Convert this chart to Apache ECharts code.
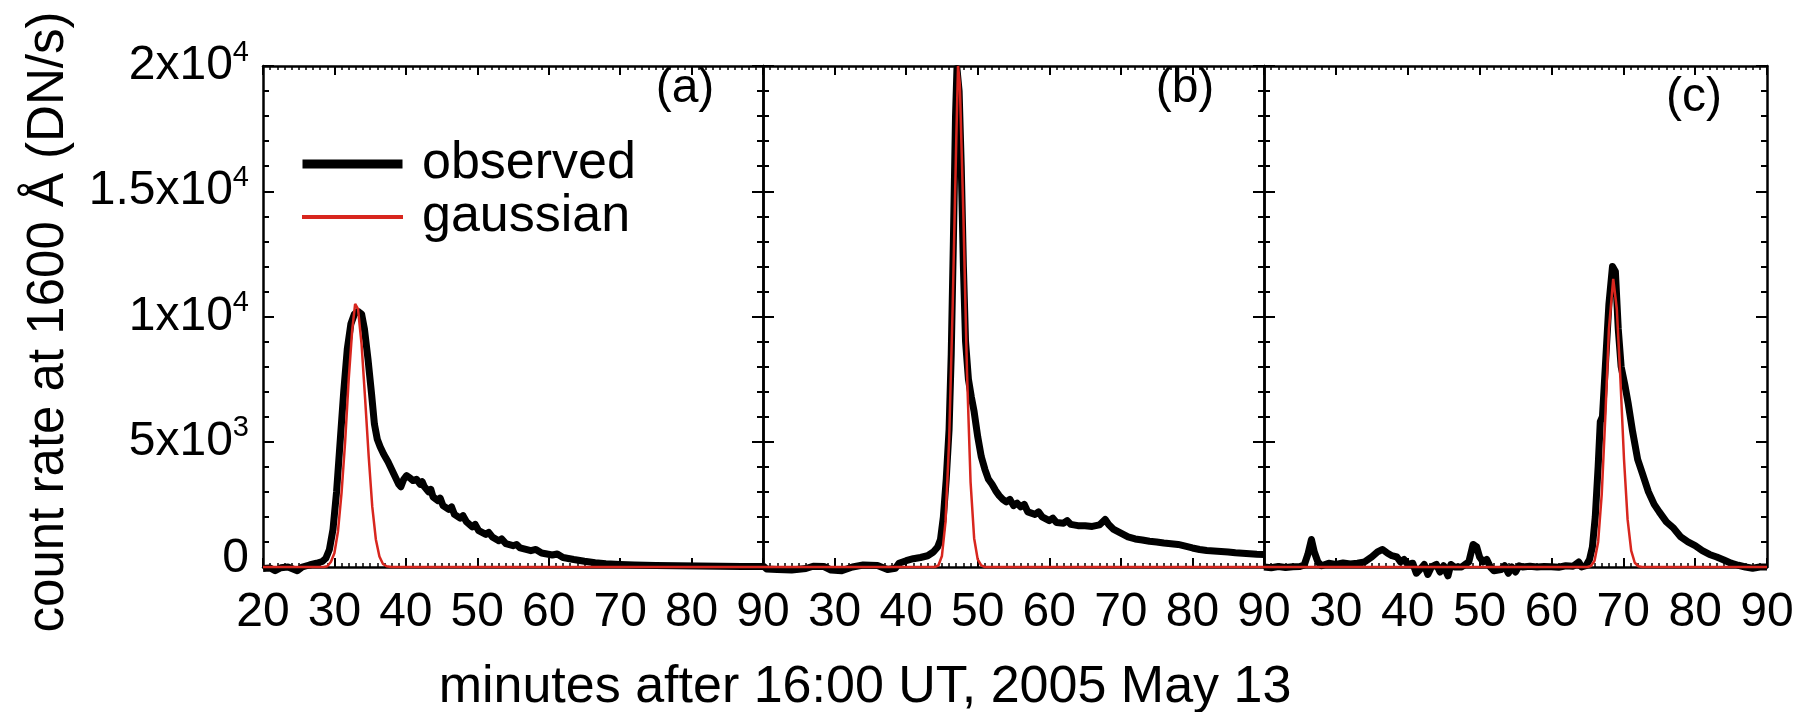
<!DOCTYPE html>
<html>
<head>
<meta charset="utf-8">
<script src="https://cdn.jsdelivr.net/npm/echarts@6/dist/echarts.min.js"></script>
<style>
html,body{margin:0;padding:0;background:#ffffff;}
#chart{width:1816px;height:712px;}
</style>
</head>
<body>
<div id="chart"></div>
<script>
// ---------------- DATA ----------------
// Panel (a)
const obsA_t = [20,21,21.7,22.5,23.5,24.8,25.5,26.5,27.5,28.3,28.8,29.3,29.8,30.3,30.8,31.3,31.8,32.3,32.8,33.3,33.8,34.2,34.7,35.2,35.6,36.0,36.4,36.9,37.5,38.0,38.5,39.0,39.3,39.7,40.1,40.6,41.0,41.5,42.0,42.3,42.6,43.2,43.5,43.8,44.5,44.8,45.2,46.0,46.4,46.8,47.6,48.0,48.5,49.3,49.7,50.2,51.2,51.6,52.1,53.0,53.4,54.0,55.0,55.5,56.0,57.5,58.2,59.0,60.5,61.2,62.0,63.5,65.0,66.5,68.0,70.0,72.0,75.0,78.0,81.0,84.0,87.0,90.0];
const obsA_v = [-60,-40,-150,-30,0,-150,0,80,150,220,350,700,1500,3000,5000,7000,8700,9700,10100,10200,10100,9500,8300,6900,5700,5100,4800,4500,4200,3900,3600,3300,3200,3500,3650,3550,3450,3500,3300,3400,3200,3000,3100,2800,2650,2750,2450,2300,2400,2100,1950,2050,1800,1600,1700,1450,1300,1380,1200,1050,1120,930,850,900,760,650,700,560,480,520,380,300,230,170,130,100,80,60,50,40,30,20,20];
const gauA_t = [20,28.5,29.0,29.5,30.0,30.5,31.0,31.5,32.0,32.5,32.9,33.3,33.8,34.3,34.8,35.3,35.8,36.3,36.8,37.3,38.0,90];
const gauA_v = [0,0,30,200,560,1430,2970,5000,7500,9500,10500,10300,8900,6700,4400,2400,1100,420,120,30,0,0];

// Panel (b)
const obsB_t = [20,20.5,22,24,26,27,28.5,29.5,31,32.5,34,36,37.4,38.5,39,40,41,42,43,43.8,44.4,44.8,45.2,45.6,46.0,46.3,46.6,46.9,47.1,47.4,47.7,48.0,48.3,48.7,49.1,49.5,50.0,50.5,51.0,51.5,52.0,52.5,53.0,53.5,54.0,54.5,55.0,55.5,56.0,56.5,57.0,58.0,58.5,59.0,60.0,60.5,61.0,62.0,62.5,63.0,64.0,65.0,66.0,67.0,67.8,68.3,69.0,70.0,71.0,72.0,73.0,74.0,75.0,76.0,77.0,78.0,79.0,80.0,81.0,82.0,83.0,84.0,85.0,86.0,87.0,88.0,89.0,90.0];
const obsB_v = [50,-80,-100,-120,-60,30,20,-120,-150,0,80,60,-100,-50,150,250,330,380,450,600,800,1100,2000,3500,5500,8500,13000,18000,19900,19000,16000,12000,9000,7500,6800,6200,5200,4400,3900,3500,3300,3050,2850,2700,2600,2700,2450,2550,2400,2500,2200,2100,2200,2000,1850,1950,1780,1750,1850,1700,1650,1650,1620,1680,1900,1700,1500,1350,1200,1120,1080,1030,1000,960,930,900,830,760,700,660,640,620,600,570,550,530,510,500];
const gauB_t = [20,44.0,44.5,45.0,45.5,46.0,46.5,47.0,47.25,47.5,48.0,48.5,49.0,49.5,50.0,50.5,51.0,90];
const gauB_v = [0,0,60,440,1800,5000,10400,17000,20000,19300,14000,7800,3400,1150,300,60,0,0];

// Panel (c)
const obsC_t = [20,21,22,23,24,25,25.6,26.1,26.6,27.0,27.5,28.0,28.5,29,30,31,32,33,34,35,35.8,36.5,37.2,37.8,38.5,39,39.5,40,40.7,41.2,41.7,42.3,42.8,43.3,44,44.5,45,45.6,46,46.5,47.5,48,48.5,49.1,49.6,50,50.5,51,51.5,52,53,53.5,54,54.5,55,55.5,56,57,58,59,60,61,62,63,63.8,64.2,64.8,65.3,65.7,66.1,66.5,66.8,67.1,67.5,68.0,68.5,68.9,69.3,69.7,70.2,70.7,71.3,72.0,72.7,73.5,74.3,75.0,76.0,77.0,78.0,79.0,80.0,81.0,82.0,83.0,84.0,85.0,86.0,87,88,89,90];
const obsC_v = [0,-30,20,-20,10,20,80,500,1100,600,200,50,100,150,100,160,120,150,200,400,600,700,550,450,400,200,300,100,150,-250,-100,100,-300,0,100,-200,50,-350,100,0,0,100,200,900,800,400,200,300,0,-150,-100,50,-250,0,-200,50,0,30,0,20,10,-10,50,30,200,0,50,300,800,2000,4000,5800,6000,8000,10500,12000,11800,9500,8000,7300,6500,5400,4300,3700,3000,2500,2200,1800,1550,1200,1000,850,650,500,400,280,150,70,0,-50,0,0];
const gauC_t = [20,65.0,65.5,66.0,66.5,67.0,67.5,68.0,68.6,69.1,69.6,70.1,70.6,71.1,71.6,72.1,72.6,90];
const gauC_v = [0,0,40,250,1000,2900,6000,9500,11500,10300,7500,4300,1900,650,170,30,0,0];

// Tick labels
const xTickLabels = ['20','30','40','50','60','70','80','90'];
const yTickValues = [0,5000,10000,15000,20000];
const yTickBase = ['0','5x10','1x10','1.5x10','2x10'];
const yTickExp = ['','3','4','4','4'];
const panelLabels = ['(a)','(b)','(c)'];
const legendNames = ['observed','gaussian'];
const yTitle = 'count rate at 1600 Å (DN/s)';
const xTitle = 'minutes after 16:00 UT, 2005 May 13';

// ---------------- CHART ----------------
const FONT = '"Liberation Sans", Arial, Helvetica, sans-serif';
const RED = '#d8261e';
const pairs = (t, v) => t.map((x, i) => [x, v[i]]);

const gridsPos = [
  {left: 263, top: 66, width: 500, height: 501},
  {left: 763, top: 66, width: 501, height: 501},
  {left: 1264, top: 66, width: 503, height: 501}
];

function xAxisFor(i, pos, withLabels) {
  return {
    type: 'value', gridIndex: i, position: pos, min: 20, max: 90, interval: 10,
    axisLine: {show: true, onZero: false, lineStyle: {color: '#000', width: 2.5}},
    axisTick: {show: true, inside: true, length: 9, lineStyle: {color: '#000', width: 2}},
    minorTick: {show: true, splitNumber: 10, length: 4, lineStyle: {color: '#000', width: 1.5}},
    splitLine: {show: false}, minorSplitLine: {show: false},
    axisLabel: {
      show: withLabels, margin: 22, color: '#000', fontSize: 48, fontFamily: FONT,
      formatter: function (v) {
        const idx = Math.round((v - 20) / 10);
        if (i > 0 && idx === 0) return '';
        return xTickLabels[idx] || '';
      }
    }
  };
}

function yAxisFor(i, pos, withLabels) {
  return {
    type: 'value', gridIndex: i, position: pos, min: 0, max: 20000, interval: 5000,
    axisLine: {show: true, onZero: false, lineStyle: {color: '#000', width: 2.5}},
    axisTick: {show: true, inside: true, length: 11, lineStyle: {color: '#000', width: 2}},
    minorTick: {show: true, splitNumber: 5, length: 6, lineStyle: {color: '#000', width: 2}},
    splitLine: {show: false}, minorSplitLine: {show: false},
    axisLabel: {
      show: withLabels, margin: 14, color: '#000', fontFamily: FONT,
      formatter: function (v) {
        const k = yTickValues.indexOf(v);
        if (k < 0) return '';
        if (yTickExp[k] === '') return '{z|' + yTickBase[k] + '}';
        return '{b|' + yTickBase[k] + '}{e|' + yTickExp[k] + '}';
      },
      rich: {
        b: {fontSize: 48, lineHeight: 56, fontFamily: FONT, color: '#000'},
        e: {fontSize: 29, lineHeight: 29, verticalAlign: 'top', fontFamily: FONT, color: '#000'},
        z: {fontSize: 48, lineHeight: 48, padding: [0, 0, 16, 0], fontFamily: FONT, color: '#000'}
      }
    }
  };
}

const xAxes = [], yAxes = [];
for (let i = 0; i < 3; i++) {
  xAxes.push(xAxisFor(i, 'bottom', true));
  xAxes.push(xAxisFor(i, 'top', false));
  yAxes.push(yAxisFor(i, 'left', i === 0));
  yAxes.push(yAxisFor(i, 'right', false));
}

const obsSets = [pairs(obsA_t, obsA_v), pairs(obsB_t, obsB_v), pairs(obsC_t, obsC_v)];
const gauSets = [pairs(gauA_t, gauA_v), pairs(gauB_t, gauB_v), pairs(gauC_t, gauC_v)];
const series = [];
for (let i = 0; i < 3; i++) {
  series.push({
    type: 'line', name: legendNames[0], xAxisIndex: 2 * i, yAxisIndex: 2 * i,
    data: obsSets[i], showSymbol: false, symbol: 'none', clip: false, z: 3,
    lineStyle: {color: '#000', width: 7, join: 'round'}, itemStyle: {color: '#000'}
  });
  series.push({
    type: 'line', name: legendNames[1], xAxisIndex: 2 * i, yAxisIndex: 2 * i,
    data: gauSets[i], showSymbol: false, symbol: 'none', clip: false, z: 4,
    lineStyle: {color: RED, width: 2.5}, itemStyle: {color: RED}
  });
}

const panelPos = [[685, 89], [1185, 89], [1694, 98]];
const graphics = panelPos.map((p, i) => ({
  type: 'text', x: p[0], y: p[1], z: 10,
  style: {text: panelLabels[i], fontSize: 48, fontFamily: FONT, fill: '#000', align: 'center', verticalAlign: 'middle'}
}));
graphics.push({
  type: 'text', x: 865, y: 688, z: 10,
  style: {text: xTitle, fontSize: 52, fontFamily: FONT, fill: '#000', align: 'center', verticalAlign: 'middle'}
});
graphics.push({
  type: 'text', x: 49, y: 322, rotation: Math.PI / 2, z: 10,
  style: {text: yTitle, fontSize: 51, fontFamily: FONT, fill: '#000', align: 'center', verticalAlign: 'middle'}
});

const chart = echarts.init(document.getElementById('chart'), null, {renderer: 'canvas'});
chart.setOption({
  backgroundColor: '#ffffff',
  animation: false,
  grid: gridsPos.map(g => Object.assign({containLabel: false}, g)),
  xAxis: xAxes,
  yAxis: yAxes,
  legend: {
    orient: 'vertical', left: 297, top: 133, itemWidth: 101, itemHeight: 9, itemGap: 1,
    selectedMode: false, symbolKeepAspect: true,
    textStyle: {fontSize: 52, lineHeight: 52, fontFamily: FONT, color: '#000', padding: [0, 0, 0, 14]},
    data: [
      {name: legendNames[0], icon: 'path://M0,0H100V9H0Z', itemStyle: {color: '#000'}},
      {name: legendNames[1], icon: 'path://M0,0H100V4H0Z', itemStyle: {color: RED}}
    ]
  },
  graphic: graphics,
  series: series
});
</script>
</body>
</html>
